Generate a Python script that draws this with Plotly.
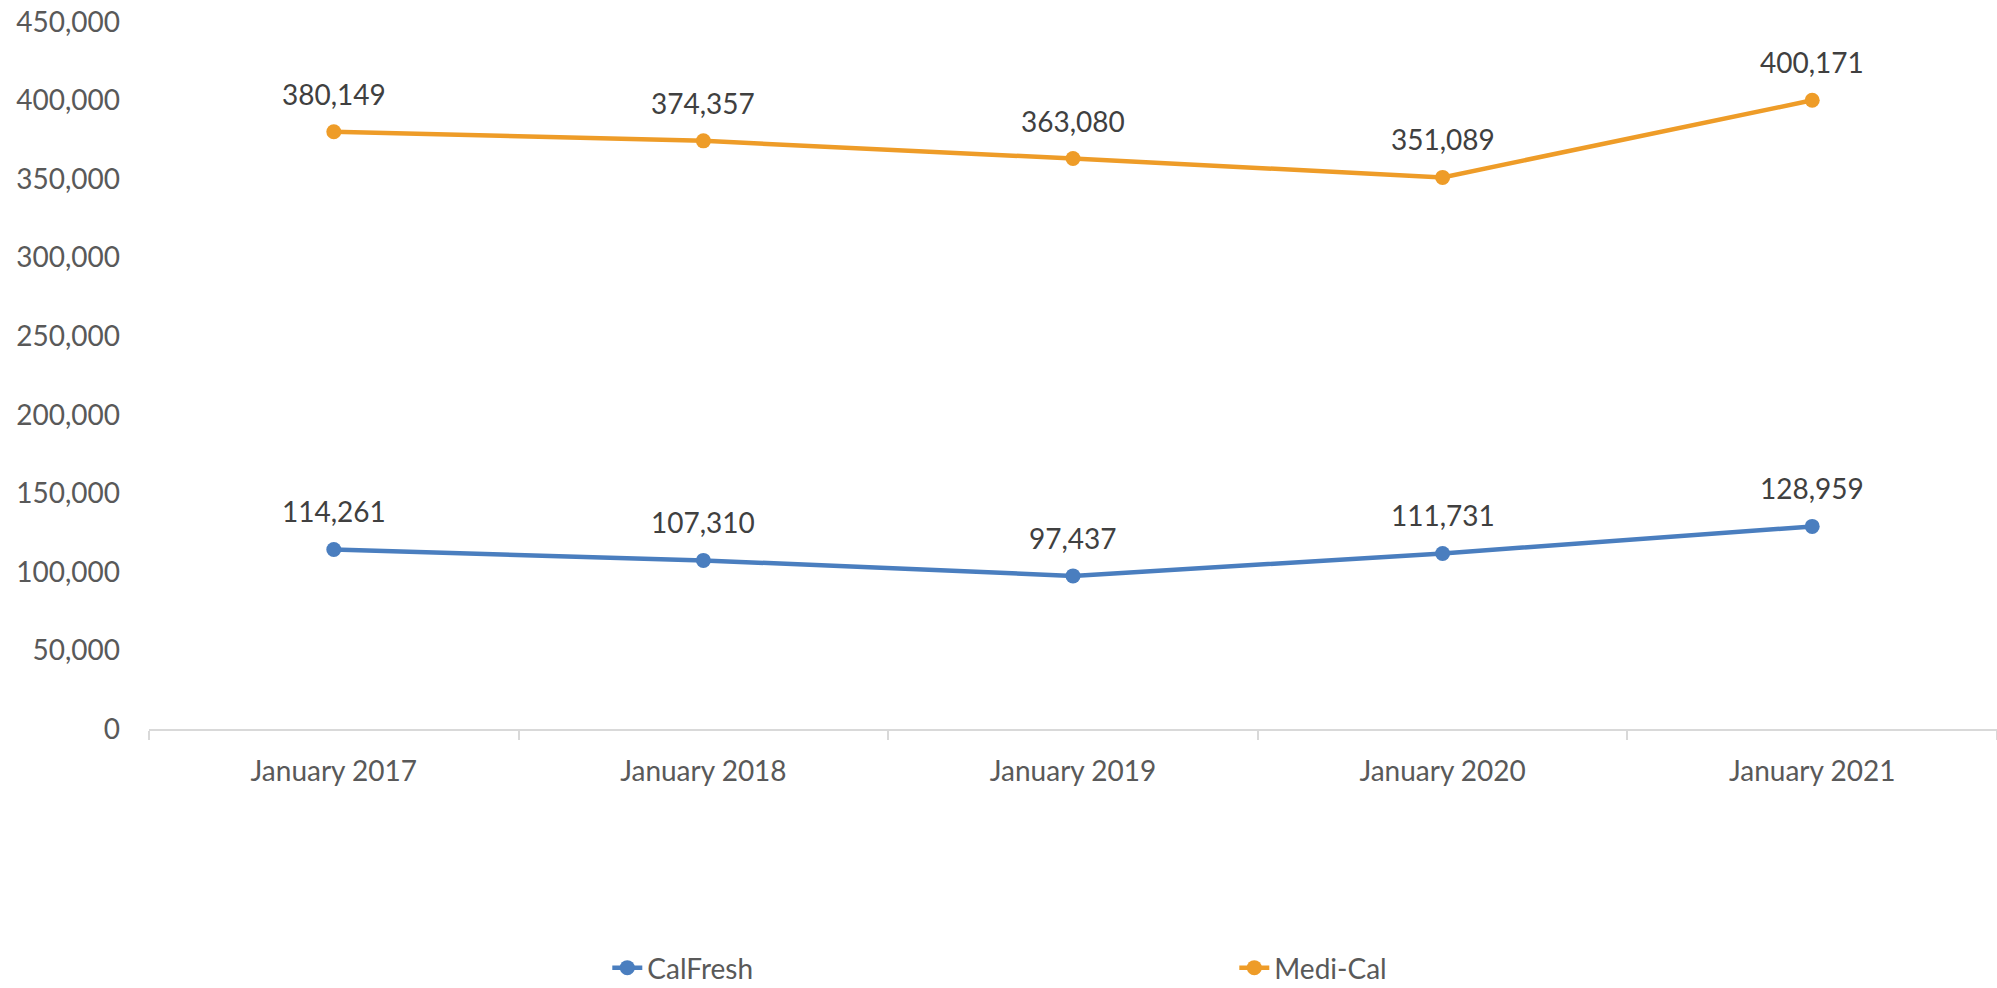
import plotly.graph_objects as go

# Data
months = ['January 2017', 'January 2018', 'January 2019', 'January 2020', 'January 2021']
calfresh = [114261, 107310, 97437, 111731, 128959]
medical = [380149, 374357, 363080, 351089, 400171]

series = [
    ('CalFresh', calfresh, '#4A7EBF'),
    ('Medi-Cal', medical, '#EE9C28'),
]

FONT = 'Lato'

fig = go.Figure()
for name, vals, color in series:
    fig.add_trace(go.Scatter(
        x=months, y=vals, name=name,
        mode='lines+markers',
        line=dict(color=color, width=4.5),
        marker=dict(color=color, size=15),
    ))
    # value labels above each point
    for m, v in zip(months, vals):
        fig.add_annotation(
            x=m, y=v, text=f'{v:,}', showarrow=False,
            yanchor='middle', yshift=38,
            font=dict(family=FONT, size=28, color='#404040'),
        )

fig.update_layout(
    width=1997, height=988,
    margin=dict(l=149, r=0, t=22, b=259, autoexpand=False),
    paper_bgcolor='white', plot_bgcolor='white',
    font=dict(family=FONT, size=28, color='#595959'),
    showlegend=True,
    legend=dict(
        orientation='h', x=0.248, xanchor='left',
        y=-0.338, yanchor='middle',
        entrywidth=582,
        font=dict(family=FONT, size=28, color='#595959'),
    ),
)

fig.update_xaxes(
    type='category', range=[-0.5, 4.5], automargin=False,
    showline=True, linecolor='#D9D9D9', linewidth=2,
    ticks='outside', tickson='boundaries', ticklen=9, tickcolor='#D9D9D9', tickwidth=2,
    showgrid=False, zeroline=False,
    ticklabelstandoff=16,
)
fig.update_yaxes(
    range=[0, 450000], dtick=50000, tickformat=',', automargin=False,
    showgrid=False, zeroline=False, showline=False,
    ticklabelstandoff=28,
)

# drop the browser's default body margin so the figure fills the window
fig.write_html('out.html', config={'displayModeBar': False},
               post_script="document.body.style.margin='0';")
